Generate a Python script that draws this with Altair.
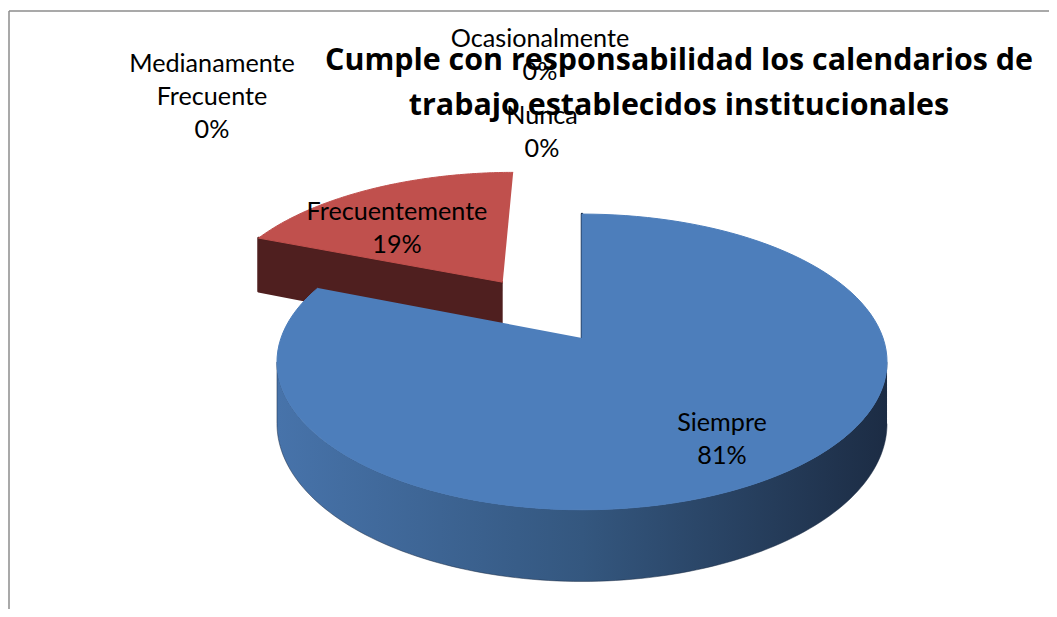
import math
import altair as alt
import pandas as pd

# ---------------- data ----------------
categories = ["Siempre", "Frecuentemente", "Medianamente Frecuente", "Ocasionalmente", "Nunca"]
values = [81, 19, 0, 0, 0]
title_lines = ["Cumple con responsabilidad los calendarios de",
               "trabajo establecidos institucionales"]

# ---------------- style / layout ----------------
TOP_COLORS = {"Siempre": "#4d7ebb", "Frecuentemente": "#c0504d",
              "Medianamente Frecuente": "#9bbb59", "Ocasionalmente": "#8064a2",
              "Nunca": "#4bacc6"}
SIDE_COLORS = {"Frecuentemente": "#4f1f1f", "Medianamente Frecuente": "#4d5e2c",
               "Ocasionalmente": "#403251", "Nunca": "#255663"}
BLUE_SIDE = alt.Gradient(
    gradient="linear",
    stops=[alt.GradientStop(offset=0, color="#4773aa"),
           alt.GradientStop(offset=0.5, color="#34577f"),
           alt.GradientStop(offset=1, color="#1c2c44")],
    x1=0, x2=1, y1=0, y2=0)
EXPLODE = {"Frecuentemente": 0.5}
# label anchor (centre x, first baseline y) in page pixels
LABEL_X = {"Siempre": 722, "Frecuentemente": 397, "Medianamente Frecuente": 212,
           "Ocasionalmente": 540, "Nunca": 542}
LABEL_Y = {"Siempre": 431, "Frecuentemente": 220, "Medianamente Frecuente": 72,
           "Ocasionalmente": 47, "Nunca": 124}

CX, CY, RX, RY, K, DEPTH = 582, 338, 301, 144, 0.162, 60
N = 120
FONT = "Lato"
TITLE_FONT = "Open Sans"

df = pd.DataFrame({"cat": categories, "val": values, "idx": list(range(len(categories)))})

X_SCALE = alt.Scale(domain=[8, 1049], nice=False, zero=False)
Y_SCALE = alt.Scale(domain=[8, 609], nice=False, zero=False, reverse=True)

# visible (front-facing) angular window of the curved rim
VIS_LO = math.pi / 2 + math.asin(K)
VIS_HI = 3 * math.pi / 2 - math.asin(K)


def case(mapping, default=0):
    expr = str(default)
    for k, v in mapping.items():
        expr = f"(datum.cat === '{k}' ? {v} : {expr})"
    return expr


def base():
    return (alt.Chart(df)
            .transform_joinaggregate(total="sum(val)")
            .transform_window(cum="sum(val)", sort=[alt.SortField("idx")], frame=[None, 0])
            .transform_calculate(
                a0="2*PI*(datum.cum - datum.val)/datum.total",
                a1="2*PI*datum.cum/datum.total")
            .transform_calculate(am="(datum.a0 + datum.a1)/2"))


def geom(cat, kind, fill, stroke, sw):
    e = EXPLODE.get(cat, 0)
    ch = base().transform_filter(f"datum.cat === '{cat}' && datum.val > 0")
    if kind == "top":
        seq = f"sequence(-1, {N + 1})"
        r = "datum.j < 0 ? 0 : 1"
        t = f"datum.a0 + (datum.a1 - datum.a0)*max(datum.j, 0)/{N}"
        h = "0"
    elif kind == "side":
        ch = (ch.transform_calculate(lo=f"max(datum.a0, {VIS_LO})",
                                     hi=f"min(datum.a1, {VIS_HI})")
                .transform_filter("datum.hi > datum.lo"))
        seq = f"sequence(0, {2 * N + 2})"
        r = "1"
        t = f"datum.lo + (datum.hi - datum.lo)*(datum.j <= {N} ? datum.j : {2 * N + 1} - datum.j)/{N}"
        h = f"datum.j <= {N} ? 0 : 1"
    else:  # radial face at slice start
        seq = "[0, 1, 2, 3]"
        r = "(datum.j == 1 || datum.j == 2) ? 1 : 0"
        t = "datum.a0"
        h = "datum.j >= 2 ? 1 : 0"
    return (ch
            .transform_calculate(j=seq)
            .transform_flatten(["j"])
            .transform_calculate(
                t=t, r=r, h=h,
                X=f"datum.r*sin(datum.t) + {e}*sin(datum.am)",
                Z=f"datum.r*cos(datum.t) + {e}*cos(datum.am)")
            .transform_calculate(s=f"1/(1 + {K}*datum.Z)")
            .transform_calculate(
                px=f"{CX} + {RX}*datum.X*datum.s",
                py=f"{CY} - {RY}*datum.Z*datum.s + datum.h*{DEPTH}*datum.s")
            .mark_line(fill=fill, stroke=stroke, strokeWidth=sw, strokeJoin="round")
            .encode(x=alt.X("px:Q", scale=X_SCALE, axis=None),
                    y=alt.Y("py:Q", scale=Y_SCALE, axis=None),
                    order=alt.Order("j:Q")))


layers = []
for c in categories:
    fill = BLUE_SIDE if c == "Siempre" else SIDE_COLORS[c]
    stroke = "#1c2c44" if c == "Siempre" else SIDE_COLORS[c]
    layers.append(geom(c, "side", fill, stroke, 0.5))
for c in categories:
    col = "#1f3350" if c == "Siempre" else SIDE_COLORS[c]
    layers.append(geom(c, "face", col, col, 2.5))
for c in categories:
    layers.append(geom(c, "top", TOP_COLORS[c], TOP_COLORS[c], 1))

labels = (alt.Chart(df)
          .transform_joinaggregate(total="sum(val)")
          .transform_calculate(
              label="datum.cat + ' ' + format(datum.val/datum.total, '.0%')",
              lx=case(LABEL_X), ly=case(LABEL_Y))
          .mark_text(font=FONT, fontSize=25.2, lineBreak=" ", lineHeight=33,
                     align="center", baseline="alphabetic", color="black")
          .encode(x=alt.X("lx:Q", scale=X_SCALE, axis=None),
                  y=alt.Y("ly:Q", scale=Y_SCALE, axis=None),
                  text="label:N"))

one = pd.DataFrame({"k": [0]})
title = (alt.Chart(one)
         .mark_text(text=title_lines, font=TITLE_FONT, fontWeight="bold", fontSize=30.4,
                    lineHeight=45, align="center", baseline="alphabetic", color="black")
         .encode(x=alt.value(679 - 8), y=alt.value(70 - 8)))

border_h = alt.Chart(one).mark_rule(color="#8c8c8c", strokeWidth=1.5).encode(
    x=alt.value(1), x2=alt.value(1041), y=alt.value(3))
border_v = alt.Chart(one).mark_rule(color="#8c8c8c", strokeWidth=1.5).encode(
    x=alt.value(1), y=alt.value(3), y2=alt.value(601))

chart = (alt.layer(*layers, labels, title, border_h, border_v)
         .properties(width=1041, height=601, padding=0,
                     autosize=alt.AutoSizeParams(type="none"), background="white")
         .configure_view(strokeWidth=0))

chart.save("out.html", embed_options={"renderer": "svg", "actions": False})
